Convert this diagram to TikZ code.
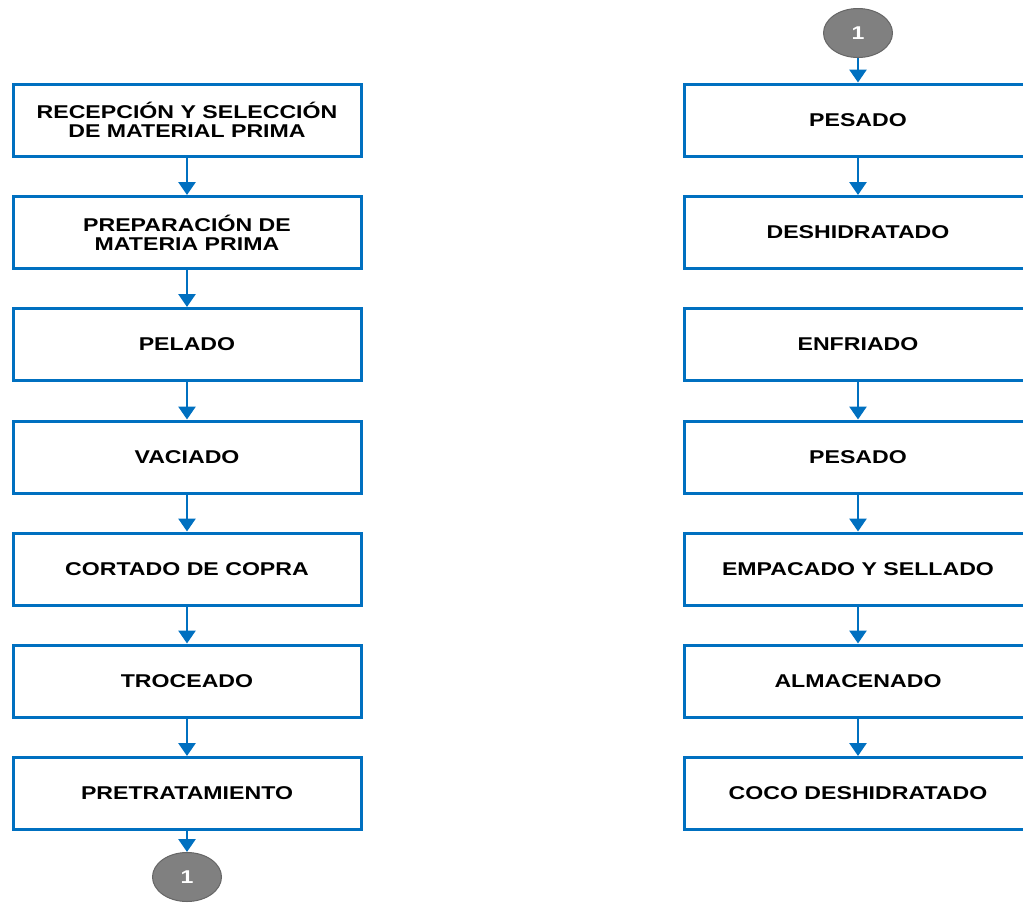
\documentclass[tikz,border=0pt]{standalone}
\usepackage{fontspec}
\setmainfont{Liberation Sans}[FakeStretch=1.25]
\usetikzlibrary{arrows.meta,shapes.geometric}
\definecolor{flowblue}{RGB}{0,112,192}
\definecolor{conngray}{RGB}{128,128,128}
\begin{document}
\begin{tikzpicture}[x=1pt,y=-1pt]
      \tikzstyle{stepbox}=[draw=flowblue,line width=3pt,fill=white,minimum width=348pt,minimum height=72pt,align=center,inner sep=2pt,font=\fontsize{18.5}{19}\selectfont\bfseries]
      \tikzstyle{connector}=[ellipse,draw=black!60,line width=1pt,fill=conngray,text=white,minimum width=69pt,minimum height=49pt,inner sep=0pt,font=\fontsize{18.5}{19}\selectfont\bfseries]
      \tikzstyle{flow}=[draw=flowblue,line width=2.8pt,-{Triangle[width=17pt,length=13pt]}]
      \useasboundingbox (0,0) rectangle (1023,903);
      % left column
      \node[stepbox] (recep) at (187,120) {RECEPCIÓN Y SELECCIÓN\\DE MATERIAL PRIMA};
      \node[stepbox] (prep) at (187,232.5) {PREPARACIÓN DE\\MATERIA PRIMA};
      \node[stepbox] (pel) at (187,344.5) {PELADO};
      \node[stepbox] (vac) at (187,457) {VACIADO};
      \node[stepbox] (cort) at (187,569) {CORTADO DE COPRA};
      \node[stepbox] (troc) at (187,681) {TROCEADO};
      \node[stepbox] (pret) at (187,793.5) {PRETRATAMIENTO};
      \node[connector] (outa) at (187,877) {1};
      % right column
      \node[connector] (ina) at (858,33) {1};
      \node[stepbox] (pes) at (858,120) {PESADO};
      \node[stepbox] (desh) at (858,232.5) {DESHIDRATADO};
      \node[stepbox] (enf) at (858,344.5) {ENFRIADO};
      \node[stepbox] (pesb) at (858,457) {PESADO};
      \node[stepbox] (emp) at (858,569) {EMPACADO Y SELLADO};
      \node[stepbox] (alm) at (858,681) {ALMACENADO};
      \node[stepbox] (coco) at (858,793.5) {COCO DESHIDRATADO};
      \draw[flow] (recep) -- (prep);
      \draw[flow] (prep) -- (pel);
      \draw[flow] (pel) -- (vac);
      \draw[flow] (vac) -- (cort);
      \draw[flow] (cort) -- (troc);
      \draw[flow] (troc) -- (pret);
      \draw[flow] (pret) -- (outa);
      \draw[flow] (ina) -- (pes);
      \draw[flow] (pes) -- (desh);
      \draw[flow] (enf) -- (pesb);
      \draw[flow] (pesb) -- (emp);
      \draw[flow] (emp) -- (alm);
      \draw[flow] (alm) -- (coco);
\end{tikzpicture}
\end{document}
